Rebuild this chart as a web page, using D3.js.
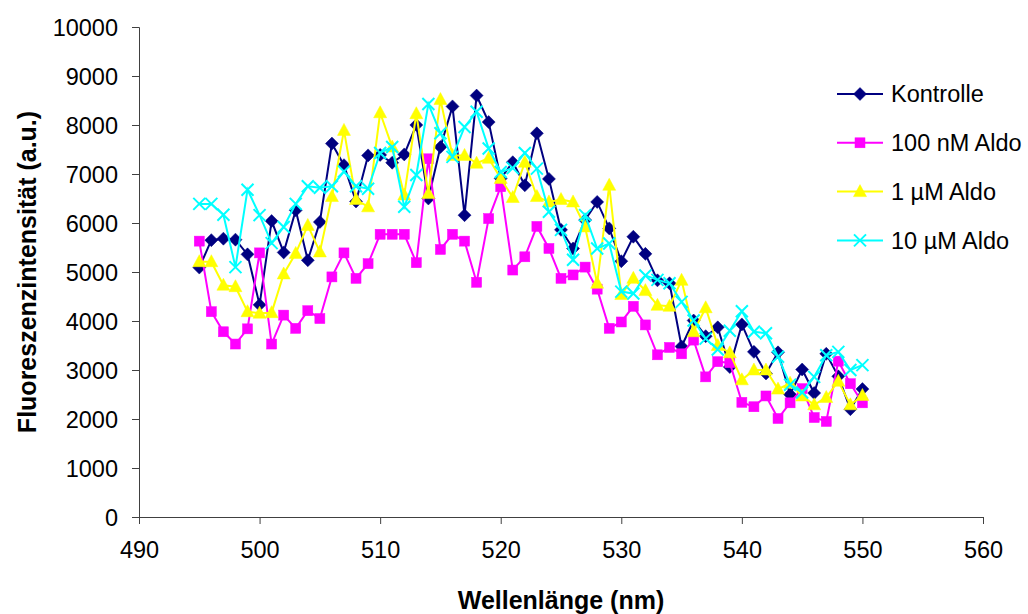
<!DOCTYPE html>
<html>
<head>
<meta charset="utf-8">
<script src="https://cdn.jsdelivr.net/npm/d3@7"></script>
<style>
  html, body { margin: 0; padding: 0; background: #fff; }
  svg { display: block; font-family: "Liberation Sans", Arial, sans-serif; }
</style>
</head>
<body>
<svg id="chart" width="1028" height="614"></svg>
<script>
const wavelengths = d3.range(495, 551);

const kontrolle = [5090, 5650, 5680, 5660, 5360, 4330, 6040, 5400, 6260, 5240,
  6020, 7620, 7180, 6440, 7380, 7390, 7230, 7400, 8000, 6500,
  7550, 8380, 6160, 8600, 8060, 6910, 7240, 6770, 7830, 6900,
  5860, 5480, 6060, 6430, 5890, 5220, 5720, 5370, 4830, 4770,
  3480, 4010, 3690, 3870, 3060, 3930, 3370, 2930, 3360, 2500,
  3010, 2530, 3330, 2870, 2200, 2610];
const aldo100nM = [5630, 4190, 3780, 3530, 3840, 5390, 3530, 4120, 3850, 4210,
  4050, 4900, 5390, 4870, 5170, 5770, 5770, 5770, 5190, 7310,
  5460, 5770, 5630, 4790, 6090, 6740, 5040, 5310, 5930, 5480,
  4870, 4940, 5100, 4650, 3850, 3980, 4300, 3920, 3310, 3460,
  3330, 3610, 2860, 3170, 3150, 2340, 2250, 2470, 2010, 2330,
  2620, 2030, 1950, 3180, 2720, 2330];
const aldo1uM = [5210, 5210, 4730, 4700, 4190, 4160, 4170, 4960, 5380, 5950,
  5410, 6540, 7890, 6480, 6330, 8250, 7550, 6570, 8230, 6600,
  8520, 7380, 7380, 7220, 7320, 6910, 6520, 7240, 6540, 6430,
  6480, 6430, 5920, 4770, 6770, 4540, 4870, 4620, 4320, 4300,
  4830, 3780, 4270, 3500, 3350, 2800, 3000, 3000, 2610, 2730,
  2470, 2290, 2440, 2770, 2290, 2480];
const aldo10uM = [6390, 6390, 6170, 5100, 6680, 6160, 5590, 5920, 6390, 6750,
  6720, 6750, 7050, 6750, 6700, 7430, 7550, 6330, 6980, 8430,
  7830, 7350, 7960, 8270, 7520, 7040, 7120, 7430, 7110, 6230,
  5860, 5250, 6160, 5480, 5580, 4600, 4560, 4930, 4840, 4770,
  4390, 4010, 3640, 3420, 3800, 4200, 3780, 3750, 3270, 2700,
  2540, 2860, 3300, 3370, 3000, 3100];

const seriesNames = ["Kontrolle", "100 nM Aldo", "1 µM Aldo", "10 µM Aldo"];
const seriesValues = [kontrolle, aldo100nM, aldo1uM, aldo10uM];
const seriesColors = ["#000080", "#FF00FF", "#FFFF00", "#00FFFF"];
const seriesMarkers = ["diamond", "square", "triangle", "cross"];

const xTicks = [490, 500, 510, 520, 530, 540, 550, 560];
const yTicks = [0, 1000, 2000, 3000, 4000, 5000, 6000, 7000, 8000, 9000, 10000];

const svg = d3.select("#chart");
const plotLeft = 139, plotRight = 983, plotTop = 27, plotBottom = 517;
const x = d3.scaleLinear().domain([490, 560]).range([plotLeft, plotRight]);
const y = d3.scaleLinear().domain([0, 10000]).range([plotBottom, plotTop]);

const axisColor = "#404040";
const fontSize = 23.5;

// axes
const gx = svg.append("g").attr("transform", `translate(0,${plotBottom})`)
  .call(d3.axisBottom(x).tickValues(xTicks).tickSize(7).tickPadding(17).tickFormat(d3.format("d")));
const gy = svg.append("g").attr("transform", `translate(${plotLeft},0)`)
  .call(d3.axisLeft(y).tickValues(yTicks).tickSize(7).tickPadding(14).tickFormat(d3.format("d")));
[gx, gy].forEach(g => {
  g.select(".domain").attr("stroke", axisColor).attr("stroke-width", 1);
  g.selectAll(".tick line").attr("stroke", axisColor);
  g.selectAll(".tick text").attr("fill", "#000").style("font-size", fontSize + "px")
    .style("font-family", '"Liberation Sans", Arial, sans-serif');
});
gy.selectAll(".tick text").attr("dy", "0.36em");

// axis titles
svg.append("text").attr("x", 561).attr("y", 609)
  .attr("text-anchor", "middle").style("font-size", "25px").style("font-weight", "bold")
  .text("Wellenlänge (nm)");
svg.append("text").attr("transform", `translate(36,272) rotate(-90)`)
  .attr("text-anchor", "middle").style("font-size", "25px").style("font-weight", "bold")
  .text("Fluoreszenzintensität (a.u.)");

function drawMarker(g, type, cx, cy, color) {
  if (type === "diamond") {
    g.append("path").attr("d", `M${cx},${cy - 6.5}L${cx + 6.5},${cy}L${cx},${cy + 6.5}L${cx - 6.5},${cy}Z`)
      .attr("fill", color).attr("stroke", color).attr("stroke-width", 0.5);
  } else if (type === "square") {
    g.append("rect").attr("x", cx - 5).attr("y", cy - 5).attr("width", 10).attr("height", 10)
      .attr("fill", color).attr("stroke", color).attr("stroke-width", 0.5);
  } else if (type === "triangle") {
    g.append("path").attr("d", `M${cx},${cy - 7}L${cx + 6.5},${cy + 5}L${cx - 6.5},${cy + 5}Z`)
      .attr("fill", color).attr("stroke", color).attr("stroke-width", 0.5);
  } else if (type === "cross") {
    g.append("path").attr("d", `M${cx - 6},${cy - 6}L${cx + 6},${cy + 6}M${cx - 6},${cy + 6}L${cx + 6},${cy - 6}`)
      .attr("stroke", color).attr("stroke-width", 2).attr("fill", "none");
  }
}

const line = d3.line().x(d => x(d[0])).y(d => y(d[1]));

seriesValues.forEach((vals, i) => {
  const data = wavelengths.map((w, j) => [w, vals[j]]);
  const g = svg.append("g");
  g.append("path").datum(data).attr("d", line)
    .attr("fill", "none").attr("stroke", seriesColors[i]).attr("stroke-width", 2);
  data.forEach(d => drawMarker(g, seriesMarkers[i], x(d[0]), y(d[1]), seriesColors[i]));
});

// legend
const legend = svg.append("g");
const legendY0 = 94, legendStep = 48.8;
seriesNames.forEach((name, i) => {
  const ly = legendY0 + i * legendStep;
  legend.append("line").attr("x1", 837).attr("x2", 883).attr("y1", ly).attr("y2", ly)
    .attr("stroke", seriesColors[i]).attr("stroke-width", 2);
  drawMarker(legend, seriesMarkers[i], 860, ly, seriesColors[i]);
  legend.append("text").attr("x", 891).attr("y", ly).attr("dy", "0.36em")
    .style("font-size", "23.5px").text(name);
});
</script>
</body>
</html>
